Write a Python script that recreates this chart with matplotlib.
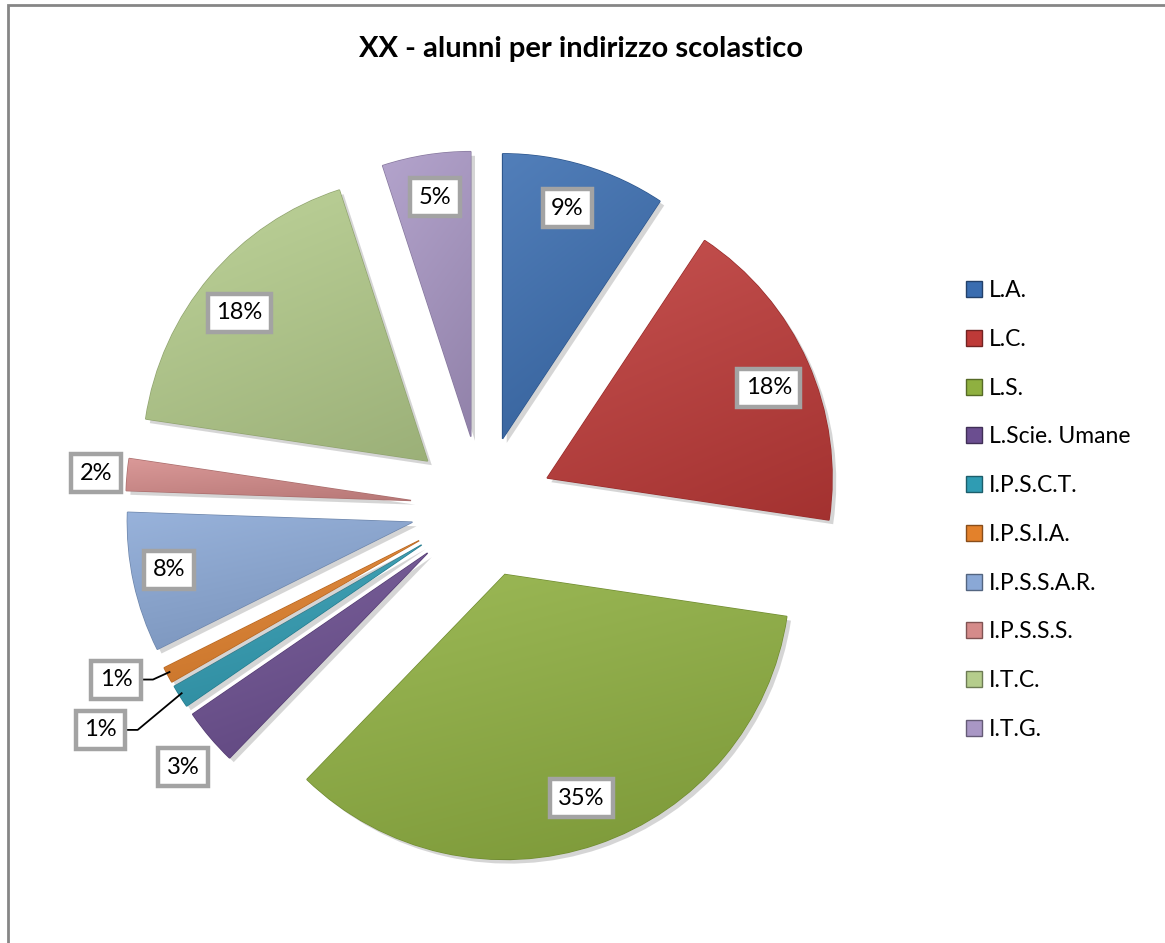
import numpy as np
import matplotlib
matplotlib.use('Agg')
import matplotlib.pyplot as plt
import matplotlib.patheffects as pe
from matplotlib.colors import to_rgb
from matplotlib.patches import Patch

plt.rcParams['font.family'] = ['Lato', 'DejaVu Sans']

# dati (quote stimate dagli angoli delle fette)
titolo = 'XX - alunni per indirizzo scolastico'
indirizzi = ['L.A.', 'L.C.', 'L.S.', 'L.Scie. Umane', 'I.P.S.C.T.', 'I.P.S.I.A.',
             'I.P.S.S.A.R.', 'I.P.S.S.S.', 'I.T.C.', 'I.T.G.']
quote = [9.3, 18.0, 34.8, 3.2, 1.3, 0.9, 7.9, 1.8, 17.6, 5.0]
colori = ['#3a6db0', '#be3a38', '#8fb040', '#6b4e90', '#2f9cb3', '#e3812b',
          '#8aa8d6', '#d58b8a', '#b5cd8c', '#a997c5']

# posizione etichette (distanza dal centro, spostamento angolare in gradi)
lab_r = [1.09, 1.09, 1.08, 1.39, 1.55, 1.42, 1.12, 1.36, 1.09, 1.10]
lab_da = [-0.8, 1.4, -0.1, -0.8, 1.8, 2.9, 0.9, -0.2, -1.5, 0.4]

def shade(c, f):
    c = np.array(to_rgb(c))
    if f > 1: return tuple(c + (1 - c) * (f - 1))
    return tuple(c * f)

fig = plt.figure(figsize=(11.65, 9.43), dpi=100)
fig.patches.append(plt.Rectangle((8/1165, -0.1), 2, 1.1 - 5/943, transform=fig.transFigure,
                                 fill=False, ec='#868686', lw=2))
fig.text(581/1165, 1 - 49/943, titolo, ha='center', va='center',
         fontsize=21, fontweight='bold')

ax = fig.add_axes([62/1165, 16/943, 840/1165, 840/943])
wedges, _ = ax.pie(quote, explode=[0.25]*len(quote), startangle=90, counterclock=False,
                   radius=1, colors=colori,
                   wedgeprops=dict(lw=1))
lim = 420/285
ax.set_aspect('equal')
ax.axis('off')

for w, c in zip(wedges, colori):
    w.set_edgecolor(shade(c, 0.8))
    w.set_path_effects([pe.SimplePatchShadow(offset=(3, -3), alpha=0.3, shadow_rgbFace='#777777'), pe.Normal()])
    ext = w.get_path().get_extents()
    yy, xx = np.mgrid[0:1:64j, 0:1:64j]
    t = 0.7*yy + 0.3*(1 - xx)
    c0 = np.array(shade(c, 0.86)); c1 = np.array(shade(c, 1.12))
    img = c0[None, None, :] * (1 - t[..., None]) + c1[None, None, :] * t[..., None]
    im = ax.imshow(img, extent=[ext.x0, ext.x1, ext.y0, ext.y1], origin='lower',
                   interpolation='bilinear', zorder=w.get_zorder() + 0.1, aspect='auto')
    im.set_clip_path(w)
ax.set_xlim(-lim, lim)
ax.set_ylim(-lim, lim)

# etichette con cornice grigia
box = dict(boxstyle='square,pad=0.36', fc='white', ec='#a3a3a3', lw=3.2)
tot = sum(quote)
cum = np.cumsum([0] + quote[:-1])
bis = [(cum[i] + q/2) / tot * 360 for i, q in enumerate(quote)]
for i, q in enumerate(quote):
    a = np.radians(bis[i] + lab_da[i])
    x, y = lab_r[i]*np.sin(a), lab_r[i]*np.cos(a)
    ax.text(x, y, '%d%%' % round(100*q/tot), ha='center', va='center', fontsize=17,
            bbox=box, zorder=10)

# linee guida per le due etichette 1%
for i in [4, 5]:
    a0 = np.radians(bis[i] + 0.3)
    xt, yt = 1.24*np.sin(a0), 1.24*np.cos(a0)
    a = np.radians(bis[i] + lab_da[i])
    xl, yl = lab_r[i]*np.sin(a), lab_r[i]*np.cos(a)
    ax.plot([xl + 0.09, xl + 0.13, xt], [yl, yl, yt], color='black', lw=1.3, zorder=9)

handles = [Patch(fc=c, ec=shade(c, 0.6), lw=1) for c in colori]
fig.legend(handles, indirizzi, loc='center left', bbox_to_anchor=(966/1165, 1 - 510/943),
           frameon=False, fontsize=16.5, labelspacing=1.21, handlelength=0.7,
           handleheight=0.7, handletextpad=0.3, borderpad=0, borderaxespad=0)

fig.savefig('out.png', dpi=100)
